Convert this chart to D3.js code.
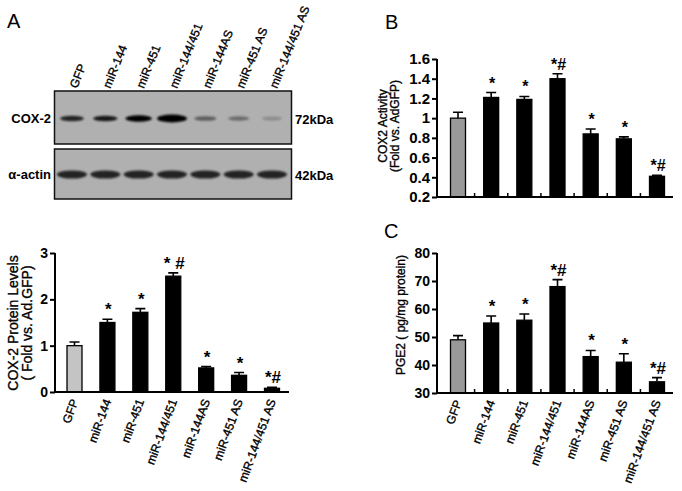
<!DOCTYPE html>
<html><head><meta charset="utf-8">
<script src="https://cdn.jsdelivr.net/npm/d3@7/dist/d3.min.js"></script>
<style>
html,body{margin:0;padding:0;background:#fff;}
svg{display:block;font-family:"Liberation Sans",Arial,sans-serif;}
.heavy{stroke:#000;stroke-width:0.35px;}
</style></head>
<body>
<svg id="c" width="682" height="491"></svg>
<script>
// ---------- data ----------
const categories = ["GFP","miR-144","miR-451","miR-144/451","miR-144AS","miR-451 AS","miR-144/451 AS"];
const proteinLevels = [1.0, 1.5, 1.72, 2.5, 0.52, 0.36, 0.08];
const proteinErr    = [0.08, 0.07, 0.08, 0.07, 0.03, 0.06, 0.02];
const proteinMarks  = ["", "*", "*", "* #", "*", "*", "*#"];
const activity      = [1.0, 1.21, 1.19, 1.40, 0.84, 0.79, 0.41];
const activityErr   = [0.06, 0.05, 0.03, 0.05, 0.05, 0.02, 0.01];
const activityMarks = ["", "*", "*", "*#", "*", "*", "*#"];
const pge2          = [49, 55, 56, 68, 43, 41, 34];
const pge2Err       = [1.5, 2.5, 2.2, 2.5, 2.2, 3.0, 1.5];
const pge2Marks     = ["", "*", "*", "*#", "*", "*", "*#"];
const cox2Band      = [1.0, 1.1, 1.6, 2.5, 0.5, 0.38, 0.08];
const actinBand     = [1, 1, 1, 1, 1, 1, 1];
const ticksA = [0, 1, 2, 3];
const ticksB = [0.2, 0.4, 0.6, 0.8, 1, 1.2, 1.4, 1.6];
const ticksC = [30, 40, 50, 60, 70, 80];

const svg = d3.select("#c");
const FONT = '"Liberation Sans",Arial,sans-serif';

// panel letters
svg.append("text").attr("x",7).attr("y",28).attr("font-size",20).text("A");
svg.append("text").attr("x",385).attr("y",29).attr("font-size",20).text("B");
svg.append("text").attr("x",384).attr("y",238).attr("font-size",20).text("C");

// ---------- western blot ----------
const defs = svg.append("defs");
defs.append("filter").attr("id","blur").attr("x","-50%").attr("y","-100%").attr("width","200%").attr("height","300%")
  .append("feGaussianBlur").attr("stdDeviation",1.2);

const lane = d3.scalePoint().domain(categories).range([72, 272]);
const blotBoxes = [
  {name:"COX-2", kda:"72kDa", y0:91, y1:144, band:cox2Band, by:118.5, h:3.2, w:10},
  {name:"\u03b1-actin", kda:"42kDa", y0:149, y1:199, band:actinBand, by:174.5, h:4.8, w:13}
];
blotBoxes.forEach(b=>{
  svg.append("rect").attr("x",54.5).attr("y",b.y0).attr("width",237).attr("height",b.y1-b.y0)
    .attr("fill","#b0b0b0").attr("stroke","#111").attr("stroke-width",1.5);
  const g = svg.append("g").attr("filter","url(#blur)");
  g.selectAll("ellipse").data(categories).join("ellipse")
    .attr("cx",d=>lane(d)).attr("cy",b.by)
    .attr("rx",(d,i)=>b.w + Math.min(b.band[i],2.5)*2)
    .attr("ry",(d,i)=>b.h*(0.6+0.25*Math.min(b.band[i],2.5)))
    .attr("fill","#050505")
    .attr("opacity",(d,i)=>Math.min(1, 0.15 + 0.65*b.band[i]));
  svg.append("text").attr("x",51).attr("y",b.by+4.5).attr("text-anchor","end")
    .attr("font-size",13).attr("font-weight","bold").text(b.name);
  svg.append("text").attr("x",295).attr("y",b.by+5).attr("font-size",13).attr("font-weight","bold").text(b.kda);
});
svg.append("g").selectAll("text").data(categories).join("text")
  .attr("class","heavy")
  .attr("transform",d=>`translate(${lane(d)+5},89) rotate(-68)`)
  .attr("font-size",12).attr("text-anchor","start").text(d=>d);

// ---------- bar chart helper ----------
function barChart(o){
  const g = svg.append("g");
  const x = d3.scalePoint().domain(categories).range(o.xr);
  const y = d3.scaleLinear().domain(o.dom).range(o.yr);
  const bw = 15;
  g.selectAll("rect.bar").data(categories).join("rect")
    .attr("x",d=>x(d)-bw/2).attr("y",(d,i)=>y(o.vals[i]))
    .attr("width",bw).attr("height",(d,i)=>y(o.dom[0])-y(o.vals[i]))
    .attr("fill",(d,i)=>i===0?o.gfp:"#000").attr("stroke","#000").attr("stroke-width",1.3);
  g.selectAll("path.err").data(categories).join("path")
    .attr("d",(d,i)=>{const cx=x(d), t=y(o.vals[i]+o.err[i]), b=y(o.vals[i]);
      return `M${cx},${b}V${t}M${cx-5},${t}H${cx+5}`;})
    .attr("stroke","#000").attr("stroke-width",1.6).attr("fill","none");
  g.selectAll("text.mark").data(categories).join("text")
    .attr("x",d=>x(d)+1).attr("y",(d,i)=>y(o.vals[i]+o.err[i])-o.markGap)
    .attr("text-anchor","middle").attr("font-size",o.markSize).attr("font-weight","bold")
    .attr("xml:space","preserve")
    .text((d,i)=>o.marks[i]);
  const ax = g.append("g").attr("transform",`translate(${o.axX},0)`)
    .call(d3.axisLeft(y).tickValues(o.ticks).tickSize(5).tickFormat(d3.format("~g")));
  ax.select(".domain").attr("stroke-width",2).attr("d",`M0,${o.yr[1]}V${o.yr[0]}`);
  ax.selectAll(".tick line").attr("stroke-width",2);
  ax.selectAll(".tick text").attr("font-size",o.tickSize).attr("font-weight","bold")
    .attr("font-family",FONT).attr("fill","#000").attr("x",-7);
  g.append("line").attr("x1",o.axX-1).attr("x2",o.axEnd).attr("y1",o.yr[0]).attr("y2",o.yr[0])
    .attr("stroke","#000").attr("stroke-width",2);
  if(o.midTicks){
    const pts = categories.slice(1).map((c,i)=>(x(categories[i])+x(c))/2);
    g.selectAll("line.mt").data(pts).join("line")
      .attr("x1",d=>d).attr("x2",d=>d).attr("y1",o.yr[0]).attr("y2",o.yr[0]-4)
      .attr("stroke","#000").attr("stroke-width",1.5);
  }
  const yl = g.append("text").attr("class","heavy").attr("transform",`translate(${o.ylx},${o.yly}) rotate(-90)`)
    .attr("text-anchor","middle").attr("font-size",o.ylSize);
  o.ylabel.forEach((t,k)=>yl.append("tspan").attr("x",0).attr("dy",k===0?0:o.ylGap).text(t));
  if(o.xlabels){
    g.selectAll("text.xl").data(categories).join("text")
      .attr("class","heavy")
      .attr("transform",d=>`translate(${x(d)+4},${o.yr[0]+9}) rotate(-70)`)
      .attr("text-anchor","end").attr("font-size",12).text(d=>d);
  }
}

barChart({xr:[74.5,272], yr:[392,253], dom:[0,3], vals:proteinLevels, err:proteinErr, marks:proteinMarks,
  gfp:"#c4c4c4", axX:55, axEnd:289, ticks:ticksA, tickSize:14, ylx:18, yly:323, ylSize:14, ylGap:13.5,
  ylabel:["COX-2 Protein Levels","( Fold vs. Ad.GFP)"], xlabels:true, markGap:4, markSize:17, midTicks:false});

barChart({xr:[458,657], yr:[197,59], dom:[0.2,1.6], vals:activity, err:activityErr, marks:activityMarks,
  gfp:"#999", axX:437, axEnd:673, ticks:ticksB, tickSize:15, ylx:386.5, yly:126, ylSize:12, ylGap:12,
  ylabel:["COX2 Activity","(Fold vs. AdGFP)"], xlabels:false, markGap:4, markSize:16, midTicks:true});

barChart({xr:[458,657], yr:[393,253], dom:[30,80], vals:pge2, err:pge2Err, marks:pge2Marks,
  gfp:"#999", axX:437, axEnd:673, ticks:ticksC, tickSize:14, ylx:405, yly:315, ylSize:12, ylGap:12,
  ylabel:["PGE2 ( pg/mg protein)"], xlabels:true, markGap:4, markSize:17, midTicks:true});
</script>
</body></html>
